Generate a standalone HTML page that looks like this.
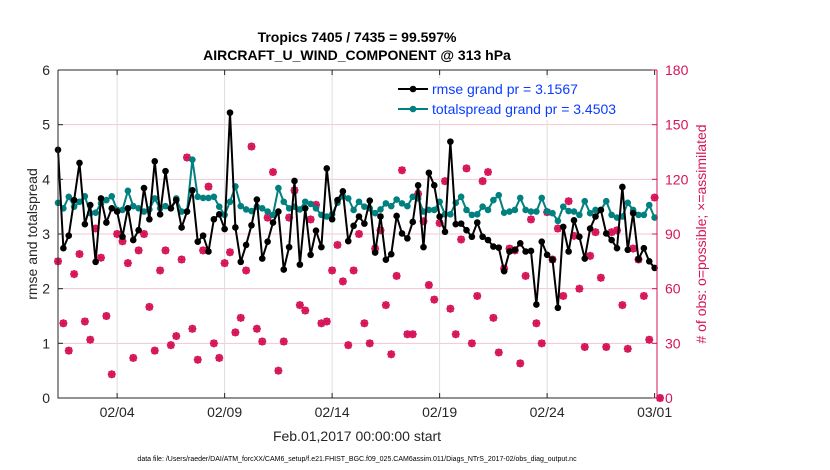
<!DOCTYPE html>
<html><head><meta charset="utf-8"><style>
body{margin:0;background:#fff;}
svg{display:block;font-family:"Liberation Sans",Arial,sans-serif;}
</style></head><body>
<svg id="chart" width="830" height="470">
</svg>
<script>
const rmse=[4.54,2.74,2.97,3.62,4.30,3.18,3.53,2.49,3.65,3.21,3.47,3.41,2.95,3.47,2.89,3.07,3.84,3.27,4.33,3.36,4.15,3.47,3.62,3.12,3.41,3.80,2.86,2.97,2.68,
3.27,3.36,3.09,5.22,3.12,2.49,2.80,3.16,3.63,2.55,2.86,3.21,3.41,2.35,2.76,3.97,2.44,3.47,2.62,3.06,2.76,4.20,3.27,3.62,3.78,2.87,3.15,3.32,
3.19,3.61,2.66,3.32,2.53,2.63,3.33,3.01,2.92,3.22,3.89,2.76,4.12,3.89,3.32,3.04,4.69,3.18,3.19,3.07,2.95,3.21,2.95,2.89,2.77,2.75,2.32,2.68,
2.71,2.83,2.68,2.69,1.71,2.86,2.62,2.53,1.65,3.13,2.68,3.25,2.95,2.55,3.10,3.32,3.44,3.01,2.89,2.74,3.86,2.71,3.38,2.54,2.74,2.50,2.38];
const spread=[3.57,3.47,3.68,3.50,3.59,3.69,3.38,3.39,3.56,3.62,3.69,3.44,3.44,3.79,3.51,3.47,3.41,3.45,3.65,3.47,3.51,3.47,3.65,3.41,3.41,4.36,3.68,3.66,3.66,
3.68,3.50,3.35,3.59,3.87,3.51,3.45,3.42,3.50,3.47,3.41,3.35,3.84,3.59,3.47,3.50,3.45,3.59,3.55,3.47,3.35,3.32,3.36,3.57,3.69,3.65,3.44,3.59,
3.50,3.47,3.38,3.45,3.56,3.51,3.63,3.56,3.51,3.68,3.65,3.41,3.44,3.44,3.59,3.36,3.36,3.57,3.68,3.44,3.35,3.36,3.50,3.44,3.62,3.71,3.39,3.41,
3.44,3.66,3.44,3.41,3.41,3.66,3.41,3.38,3.24,3.50,3.42,3.41,3.35,3.60,3.38,3.44,3.44,3.60,3.35,3.30,3.32,3.57,3.44,3.35,3.35,3.53,3.30];
const nobs=[75,41,26,68,79,42,32,93,77,45,13,90,86,74,22,81,90,50,26,70,81,29,34,76,132,38,21,81,116,
30,22,74,80,36,44,70,138,38,31,99,124,15,31,99,114,51,48,98,106,41,42,70,84,64,29,70,90,
41,30,82,92,51,24,67,125,35,35,112,97,62,54,96,119,49,35,87,126,30,56,119,124,44,25,71,82,
81,19,67,98,41,30,102,76,93,56,108,89,60,28,78,91,66,28,91,92,51,27,82,76,56,32,110,0];
const leftTicks=[0,1,2,3,4,5,6];
const rightTicks=[0,30,60,90,120,150,180];
const dateTicks=[3,8,13,18,23,28];
const dateLabels=["02/04","02/09","02/14","02/19","02/24","03/01"];

const NS="http://www.w3.org/2000/svg";
const svg=document.getElementById('chart');
const L=58,R=657,T=70,B=398;
const ys=v=>B-(v/6)*(B-T);
const yr=v=>B-(v/180)*(B-T);
const dayOf=i=>0.25+0.25*i;
const xs=d=>L+(d-0.25)*21.5;
const PINK="#d6145a",TEAL="#00807f";
function el(tag,attrs,parent){const e=document.createElementNS(NS,tag);for(const k in attrs)e.setAttribute(k,attrs[k]);(parent||svg).appendChild(e);return e;}
function txt(s,attrs,parent){const e=el('text',attrs,parent);e.textContent=s;return e;}

// background
const bg=el('rect',{x:L,y:T,width:R-L,height:B-T,fill:'#fff'});


// grids
const grid=el('g',{});


leftTicks.slice(1,-1).forEach(v=>el('line',{x1:L,x2:R,y1:ys(v),y2:ys(v),stroke:'#f3c6d6','stroke-width':1},grid));
dateTicks.slice(0,-1).forEach(d=>el('line',{x1:xs(d),x2:xs(d),y1:T,y2:B,stroke:'#dddddd','stroke-width':1},grid));

// obs markers
const obsG=el('g',{});


nobs.forEach((n,i)=>{
  const x=xs(dayOf(i)),y=yr(n);
  const g=el('g',{},obsG);
  
  
  el('circle',{cx:x,cy:y,r:3.2,fill:'none',stroke:PINK,'stroke-width':1.3},g);
  el('path',{d:`M${x-4} ${y}H${x+4}M${x} ${y-4}V${y+4}M${x-3} ${y-3}L${x+3} ${y+3}M${x-3} ${y+3}L${x+3} ${y-3}`,stroke:PINK,'stroke-width':1.6},g);
});

function series(arr,color,name,r){
  const g=el('g',{});
  
  
  el('polyline',{points:arr.map((v,i)=>xs(dayOf(i))+','+ys(v)).join(' '),fill:'none',stroke:color,'stroke-width':2},g);
  arr.forEach((v,i)=>{const c=el('circle',{cx:xs(dayOf(i)),cy:ys(v),r:r,fill:color},g);
    
    });
}
series(spread,TEAL,'totalspread-series',3.3);
series(rmse,'#000','rmse-series',3.3);

// axes
const ax=el('g',{});


el('path',{d:`M${L} ${T}V${B}H${R}M${L} ${T}H${R}`,fill:'none',stroke:'#262626','stroke-width':1},ax);
el('line',{x1:R,x2:R,y1:T,y2:B,stroke:PINK,'stroke-width':1},ax);
leftTicks.forEach(v=>{el('line',{x1:L,x2:L+5,y1:ys(v),y2:ys(v),stroke:'#262626'},ax);
  const t=txt(String(v),{x:L-8,y:ys(v)+5,'text-anchor':'end','font-size':14,fill:'#262626'},ax);
  
  });
rightTicks.forEach(v=>{el('line',{x1:R-5,x2:R,y1:yr(v),y2:yr(v),stroke:PINK},ax);
  const t=txt(String(v),{x:R+8,y:yr(v)+5,'font-size':14,fill:PINK},ax);
  
  });
dateTicks.forEach((d,k)=>{el('line',{x1:xs(d),x2:xs(d),y1:B,y2:B-5,stroke:'#262626'},ax);
  el('line',{x1:xs(d),x2:xs(d),y1:T,y2:T+5,stroke:'#262626'},ax);
  const t=txt(dateLabels[k],{x:xs(d),y:B+19,'text-anchor':'middle','font-size':14,fill:'#262626'},ax);
  
  });
</script>
<script>
(function(){
const svg=document.getElementById('chart');
const NS="http://www.w3.org/2000/svg";
function t(s,a,name){const e=document.createElementNS(NS,'text');for(const k in a)e.setAttribute(k,a[k]);e.textContent=s;


svg.appendChild(e);return e;}
t('Tropics 7405 / 7435 = 99.597%',{x:357,y:42,'text-anchor':'middle','font-size':14,'font-weight':'bold',fill:'#000'},'chart-title');
t('AIRCRAFT_U_WIND_COMPONENT @ 313 hPa',{x:357,y:60,'text-anchor':'middle','font-size':14,'font-weight':'bold',fill:'#000'},'chart-subtitle');
t('rmse and totalspread',{x:0,y:0,transform:'translate(37,234) rotate(-90)','text-anchor':'middle','font-size':14,fill:'#262626'},'left-axis-title');
t('# of obs: o=possible; \u00d7=assimilated',{x:0,y:0,transform:'translate(706,234) rotate(-90)','text-anchor':'middle','font-size':14,fill:'#d6145a'},'right-axis-title');
t('Feb.01,2017 00:00:00 start',{x:357,y:441,'text-anchor':'middle','font-size':14,fill:'#262626'},'x-axis-title');
t('data file: /Users/raeder/DAI/ATM_forcXX/CAM6_setup/f.e21.FHIST_BGC.f09_025.CAM6assim.011/Diags_NTrS_2017-02/obs_diag_output.nc',{x:357,y:461,'text-anchor':'middle','font-size':7,fill:'#000'},'data-file-note');
const lg=document.createElementNS(NS,'g');


svg.appendChild(lg);
lg.innerHTML='<rect x="396" y="78" width="258" height="42" fill="#fff"/>'+
'<line x1="398" x2="428" y1="89" y2="89" stroke="#000" stroke-width="2"/><circle cx="413" cy="89" r="3.3" fill="#000"/>'+
'<text x="432" y="94" font-size="14" fill="#0a3cff">rmse grand pr = 3.1567</text>'+
'<line x1="398" x2="428" y1="109" y2="109" stroke="#00807f" stroke-width="2"/><circle cx="413" cy="109" r="3.3" fill="#00807f"/>'+
'<text x="432" y="114" font-size="14" fill="#0a3cff">totalspread grand pr = 3.4503</text>';
})();
</script>
</body></html>
